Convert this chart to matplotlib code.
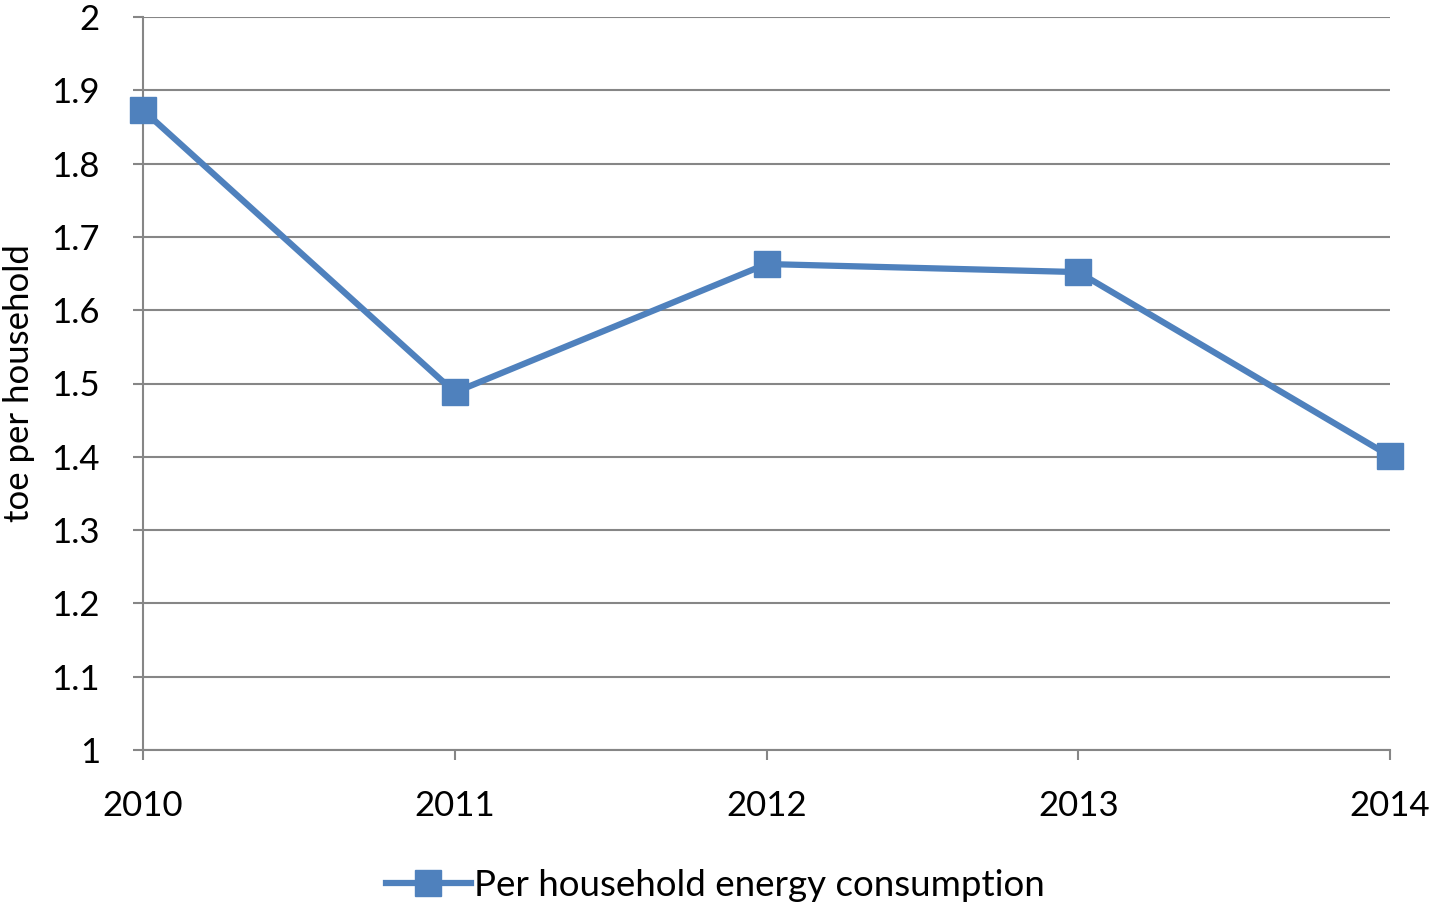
import matplotlib.pyplot as plt

plt.rcParams['font.family'] = ['Lato', 'DejaVu Sans']

years = [2010, 2011, 2012, 2013, 2014]
toe = [1.873, 1.488, 1.663, 1.652, 1.401]
y_ticks = [1, 1.1, 1.2, 1.3, 1.4, 1.5, 1.6, 1.7, 1.8, 1.9, 2]

LINE = "#4F81BD"
GRID = "#868686"

fig = plt.figure(figsize=(14.31, 9.06), dpi=100)
ax = fig.add_axes([143 / 1431, 1 - 750 / 906, (1390 - 143) / 1431, (750 - 17) / 906])

ax.plot(years, toe, color=LINE, linewidth=4.5, marker="s", markersize=19,
        label="Per household energy consumption", clip_on=False, zorder=3)

ax.set_xlim(2010, 2014)
ax.set_ylim(1, 2)
ax.set_xticks(years)
ax.set_yticks(y_ticks)
ax.set_yticklabels([f"{v:g}" for v in y_ticks])
ax.grid(axis="y", color=GRID, linewidth=1.5)
ax.set_axisbelow(True)

for s in ["top", "right"]:
    ax.spines[s].set_visible(False)
for s in ["left", "bottom"]:
    ax.spines[s].set_color(GRID)
    ax.spines[s].set_linewidth(1.5)

ax.tick_params(axis="both", colors=GRID, labelcolor="black", labelsize=25,
               length=7, width=1.5)
ax.tick_params(axis="x", pad=22)
ax.tick_params(axis="y", pad=24)
ax.set_ylabel("toe per household", fontsize=25, labelpad=12)

fig.legend(loc="lower center", bbox_to_anchor=(0.5, -0.032), frameon=False,
           fontsize=26.5, handlelength=2.3, handletextpad=0.1)

fig.savefig("out.png", dpi=100, facecolor="white")
